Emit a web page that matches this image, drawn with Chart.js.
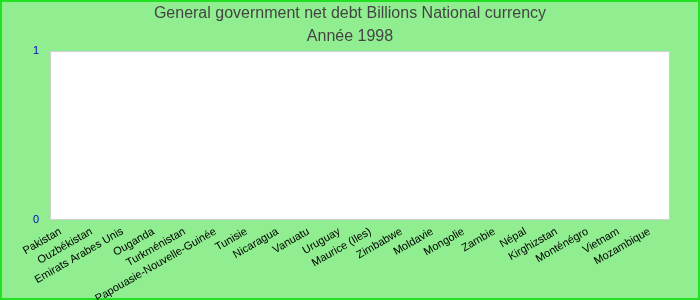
<!DOCTYPE html>
<html>
<head>
<meta charset="utf-8">
<script src="https://cdn.jsdelivr.net/npm/chart.js@4/dist/chart.umd.min.js"></script>
<style>
  html, body { margin: 0; padding: 0; background: #90ee90; }
  #wrap { width: 700px; height: 300px; position: relative; }
</style>
</head>
<body>
<div id="wrap"><canvas id="chart" width="700" height="300"></canvas></div>
<script>
// Catégories et valeurs (aucune valeur disponible pour 1998)
const countries = [
  "Pakistan", "Ouzbékistan", "Emirats Arabes Unis", "Ouganda", "Turkménistan",
  "Papouasie-Nouvelle-Guinée", "Tunisie", "Nicaragua", "Vanuatu", "Uruguay",
  "Maurice (Iles)", "Zimbabwe", "Moldavie", "Mongolie", "Zambie",
  "Népal", "Kirghizstan", "Monténégro", "Vietnam", "Mozambique"
];
const netDebt = [0, 0, 0, 0, 0, 0, 0, 0, 0, 0, 0, 0, 0, 0, 0, 0, 0, 0, 0, 0];
const yTicks = [0, 1];
const titleLines = ["General government net debt Billions National currency", "Année 1998"];

const FONT = "'Liberation Sans', Arial, sans-serif";

// fond vert, cadre vert vif, zone de tracé blanche
const frame = {
  id: "frame",
  beforeDraw(chart) {
    const { ctx, chartArea: a, width, height } = chart;
    ctx.save();
    ctx.fillStyle = "#90ee90";
    ctx.fillRect(0, 0, width, height);
    ctx.strokeStyle = "#22e022";
    ctx.lineWidth = 2;
    ctx.strokeRect(1, 1, width - 2, height - 2);
    ctx.fillStyle = "#ffffff";
    ctx.fillRect(a.left, a.top, a.right - a.left, a.bottom - a.top);
    ctx.strokeStyle = "#d0d0d0";
    ctx.lineWidth = 1;
    ctx.strokeRect(a.left + 0.5, a.top + 0.5, a.right - a.left - 1, a.bottom - a.top - 1);
    ctx.restore();
  }
};

new Chart(document.getElementById("chart"), {
  type: "bar",
  data: {
    labels: countries,
    datasets: [{ data: netDebt, backgroundColor: "#3366cc" }]
  },
  options: {
    responsive: false,
    animation: false,
    layout: { padding: 0 },
    plugins: {
      legend: { display: false },
      tooltip: { enabled: false },
      title: {
        display: true,
        text: titleLines,
        color: "#444444",
        font: { family: FONT, size: 16, weight: "normal", lineHeight: 1.44 },
        padding: { top: 2, bottom: 3 }
      }
    },
    scales: {
      x: {
        grid: { display: false, drawTicks: false },
        border: { display: false },
        ticks: {
          autoSkip: false,
          maxRotation: 30,
          minRotation: 30,
          padding: 5,
          labelOffset: -5,
          color: "#000000",
          font: { family: FONT, size: 11 }
        },
        afterFit(scale) { scale.height = 80; }
      },
      y: {
        min: 0,
        max: 1,
        grid: { display: false, drawTicks: false },
        border: { display: false },
        afterBuildTicks(scale) { scale.ticks = yTicks.map(v => ({ value: v })); },
        ticks: {
          padding: 11,
          color: "#0000bb",
          font: { family: FONT, size: 11 }
        },
        afterFit(scale) { scale.width = 50; }
      },
      // marge droite, pour garder le titre centré sur la page
      right: {
        position: "right",
        display: true,
        grid: { display: false, drawTicks: false },
        border: { display: false },
        ticks: { display: false },
        afterFit(scale) { scale.width = 30; }
      }
    }
  },
  plugins: [frame]
});
</script>
</body>
</html>
